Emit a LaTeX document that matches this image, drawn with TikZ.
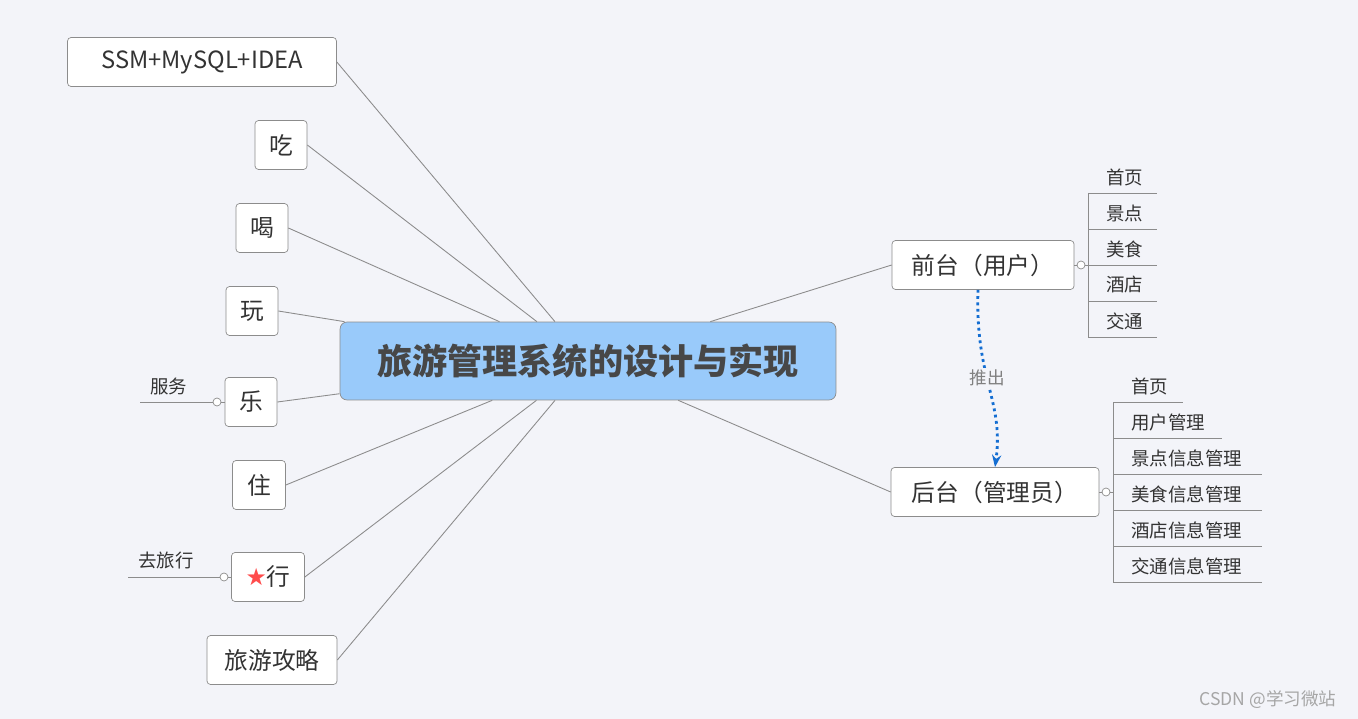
\documentclass[tikz,border=0pt]{standalone}
\usepackage{fontspec}
\setmainfont{Noto Sans CJK SC}
\newfontfamily\symfont{DejaVu Sans}
\usetikzlibrary{arrows.meta}
\definecolor{bgpaper}{RGB}{243,244,249}
\definecolor{hubblue}{RGB}{153,202,250}
\definecolor{edgegray}{RGB}{140,140,140}
\definecolor{textgray}{RGB}{51,51,51}
\definecolor{pushblue}{RGB}{20,110,210}
\tikzset{
  leaf/.style={draw=edgegray,fill=white,rounded corners=2pt,text=textgray,
    font=\fontsize{13.5}{15}\selectfont,inner sep=0pt,minimum height=0.98cm},
  sub/.style={text=textgray,font=\fontsize{10.5}{12}\selectfont,inner sep=0pt,anchor=west},
  link/.style={edgegray,line width=0.5pt},
  knob/.style={draw=edgegray,fill=white,circle,inner sep=0pt,minimum size=0.16cm},
}
\begin{document}
\begin{tikzpicture}[x=0.02cm,y=-0.02cm]
          \fill[bgpaper] (0,0) rectangle (1358,719);
          \useasboundingbox (0,0) rectangle (1358,719);
          % centre
          \node [draw=edgegray,fill=hubblue,rounded corners=4pt,minimum width=9.92cm,minimum height=1.56cm,
                 text=black!72,font=\fontsize{20}{24}\selectfont\bfseries] (hub) at (588,361) {旅游管理系统的设计与实现};
          % left side
          \node [leaf,minimum width=5.38cm] (ssm) at (202,62) {SSM+MySQL+IDEA};
          \node [leaf,minimum width=1.04cm] (eat) at (281,145) {吃};
          \node [leaf,minimum width=1.04cm] (drink) at (262,228) {喝};
          \node [leaf,minimum width=1.04cm] (play) at (252,311) {玩};
          \node [leaf,minimum width=1.04cm] (fun) at (251,402) {乐};
          \node [leaf,minimum width=1.06cm] (stay) at (259,485) {住};
          \node [leaf,minimum width=1.46cm] (go) at (268,577) {{\symfont\color{red!70!white}★}行};
          \node [leaf,minimum width=2.6cm] (guide) at (272,660) {旅游攻略};
          \foreach \n in {ssm,eat,drink,play,fun,stay,go,guide}
            \draw [link] (\n.east) -- (hub);
          % tags
          \node [knob] (funk) at (217,402) {};
          \node [sub] (funt) at (150,386) {服务};
          \coordinate (fune) at (140,402);
          \draw [link] (fun.west) -- (funk) -- (fune);
          \node [knob] (gok) at (224,577) {};
          \node [sub] (got) at (138,561) {去旅行};
          \coordinate (goe) at (128,577);
          \draw [link] (go.west) -- (gok) -- (goe);
          % right side
          \node [leaf,minimum width=3.64cm] (front) at (983,265) {前台（用户）};
          \node [leaf,minimum width=4.16cm] (back) at (995,492) {后台（管理员）};
          \draw [link] (hub.north east) ++(-126,0) coordinate (hf) -- (front.west);
          \draw [link] (hub.south east) ++(-158,0) coordinate (hb) -- (back.west);
          \node [knob] (frontk) at (1081,265) {};
          \draw [link] (front.east) -- (frontk) -- (1088,265);
          \draw [link] (1088,193) -- (1088,337);
          \foreach \t [count=\i from 0] in {首页,景点,美食,酒店,交通} {
            \node [sub] (f\i) at (1106,177+36*\i) {\t};
            \draw [link] (1088,193+36*\i) -- (1157,193+36*\i);
          }
          \node [knob] (backk) at (1106,492) {};
          \draw [link] (back.east) -- (backk) -- (1113,492);
          \draw [link] (1113,402) -- (1113,582);
          \node [sub] (b0) at (1131,386) {首页};
          \draw [link] (1113,402) -- (1183,402);
          \node [sub] (b1) at (1131,422) {用户管理};
          \draw [link] (1113,438) -- (1222,438);
          \foreach \t [count=\i from 2] in {景点信息管理,美食信息管理,酒店信息管理,交通信息管理} {
            \node [sub] (b\i) at (1131,386+36*\i) {\t};
            \draw [link] (1113,402+36*\i) -- (1262,402+36*\i);
          }
          % push arrow
          \draw [-{Stealth[length=7pt]},pushblue,dotted,line width=1.6pt]
            (front.south) ++(-5,0) .. controls (975,380) and (1004,400) .. (back.north);
          \node [text=gray,font=\fontsize{10}{12}\selectfont,fill=bgpaper,inner sep=1pt] (push) at (987,378) {推出};
          \node [text=gray!70,font=\fontsize{10}{12}\selectfont] (mark) at (1268,700) {CSDN @学习微站};
\end{tikzpicture}
\end{document}
